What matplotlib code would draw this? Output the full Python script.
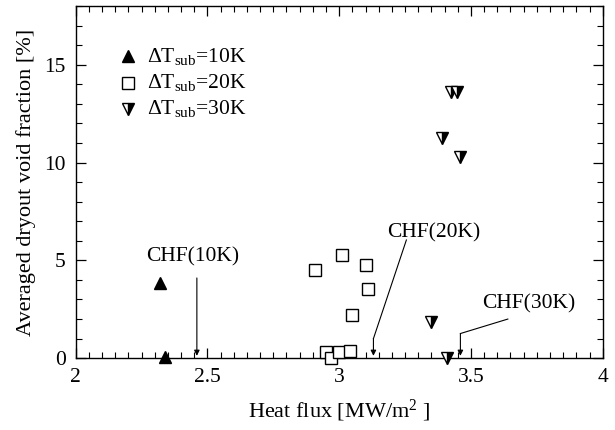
import matplotlib
matplotlib.use("Agg")
import matplotlib.pyplot as plt
from matplotlib.ticker import MultipleLocator

plt.rcParams['font.family'] = ['Liberation Serif', 'DejaVu Serif']
plt.rcParams['mathtext.fontset'] = 'custom'
plt.rcParams['mathtext.rm'] = 'Liberation Serif'
plt.rcParams['mathtext.it'] = 'Liberation Serif:italic'

# Data
x10 = [2.32, 2.34]
y10 = [3.84, 0.07]
x20 = [2.91, 3.01, 3.10, 3.11, 3.05, 2.95, 2.97, 3.00, 3.04]
y20 = [4.50, 5.27, 4.76, 3.53, 2.20, 0.30, 0.00, 0.30, 0.35]
x30 = [3.425, 3.448, 3.39, 3.46, 3.35, 3.41]
y30 = [13.6, 13.6, 11.25, 10.3, 1.86, 0.0]
labels = [r'$\Delta$T$_{\rm sub}$=10K', r'$\Delta$T$_{\rm sub}$=20K', r'$\Delta$T$_{\rm sub}$=30K']
chf_x = [2.46, 3.13, 3.46]
chf_text = ['CHF(10K)', 'CHF(20K)', 'CHF(30K)']

fs = 15.5
fig = plt.figure(figsize=(6.15, 4.3), dpi=100)
ax = fig.add_axes([0.123, 0.167, 0.857, 0.819])

ax.plot(x10, y10, ls='none', marker='^', ms=8, mfc='black', mec='black', clip_on=False, zorder=5)
ax.plot(x20, y20, ls='none', marker='s', ms=8, mfc='white', mec='black', mew=1.0, clip_on=False, zorder=5)
ax.plot(x30, y30, ls='none', marker='v', ms=8, mfc='black', mfcalt='white', fillstyle='right',
        mec='black', mew=1.0, clip_on=False, zorder=5)

ap = dict(arrowstyle='-|>', color='black', lw=0.8, mutation_scale=8, shrinkA=0, shrinkB=0)
# CHF(10K)
ax.annotate('', xy=(chf_x[0], 0.12), xytext=(chf_x[0], 4.1), arrowprops=ap)
ax.text(2.445, 5.19, chf_text[0], ha='center', va='center', fontsize=fs)
# CHF(20K)
ax.plot([3.255, chf_x[1]], [6.04, 1.0], color='black', lw=0.8)
ax.annotate('', xy=(chf_x[1], 0.12), xytext=(chf_x[1], 1.0), arrowprops=ap)
ax.text(3.36, 6.4, chf_text[1], ha='center', va='center', fontsize=fs)
# CHF(30K)
ax.plot([3.64, chf_x[2]], [2.0, 1.26], color='black', lw=0.8)
ax.annotate('', xy=(chf_x[2], 0.12), xytext=(chf_x[2], 1.26), arrowprops=ap)
ax.text(3.72, 2.8, chf_text[2], ha='center', va='center', fontsize=fs)

# legend-like entries
leg_y = [15.43, 14.07, 12.75]
leg_mk = [dict(marker='^', mfc='black'), dict(marker='s', mfc='white'),
          dict(marker='v', mfc='black', mfcalt='white', fillstyle='right')]
for yy, lab, mk in zip(leg_y, labels, leg_mk):
    ax.plot([2.20], [yy], ls='none', ms=8, mec='black', mew=1.0, **mk)
    ax.text(2.27, yy, lab, ha='left', va='center', fontsize=fs)

ax.set_xlim(2, 4)
ax.set_ylim(0, 18)
ax.xaxis.set_minor_locator(MultipleLocator(0.05))
ax.yaxis.set_minor_locator(MultipleLocator(1))
ax.set_xticks([2, 2.5, 3, 3.5, 4])
ax.set_xticklabels(['2', '2.5', '3', '3.5', '4'])
ax.set_yticks([0, 5, 10, 15])
ax.set_yticklabels(['0', '5', '10', '15'])
ax.tick_params(which='both', direction='in', top=True, right=True, labelsize=fs)
ax.tick_params(which='major', length=7, width=0.9, pad=7)
ax.tick_params(which='minor', length=4, width=0.8)
for s in ax.spines.values():
    s.set_linewidth(1.0)

ax.set_xlabel(r'Heat flux [MW/m$^2$ ]', fontsize=16, labelpad=8)
ax.set_ylabel('Averaged dryout void fraction [%]', fontsize=16, labelpad=6)

fig.savefig('out.png', dpi=100)
